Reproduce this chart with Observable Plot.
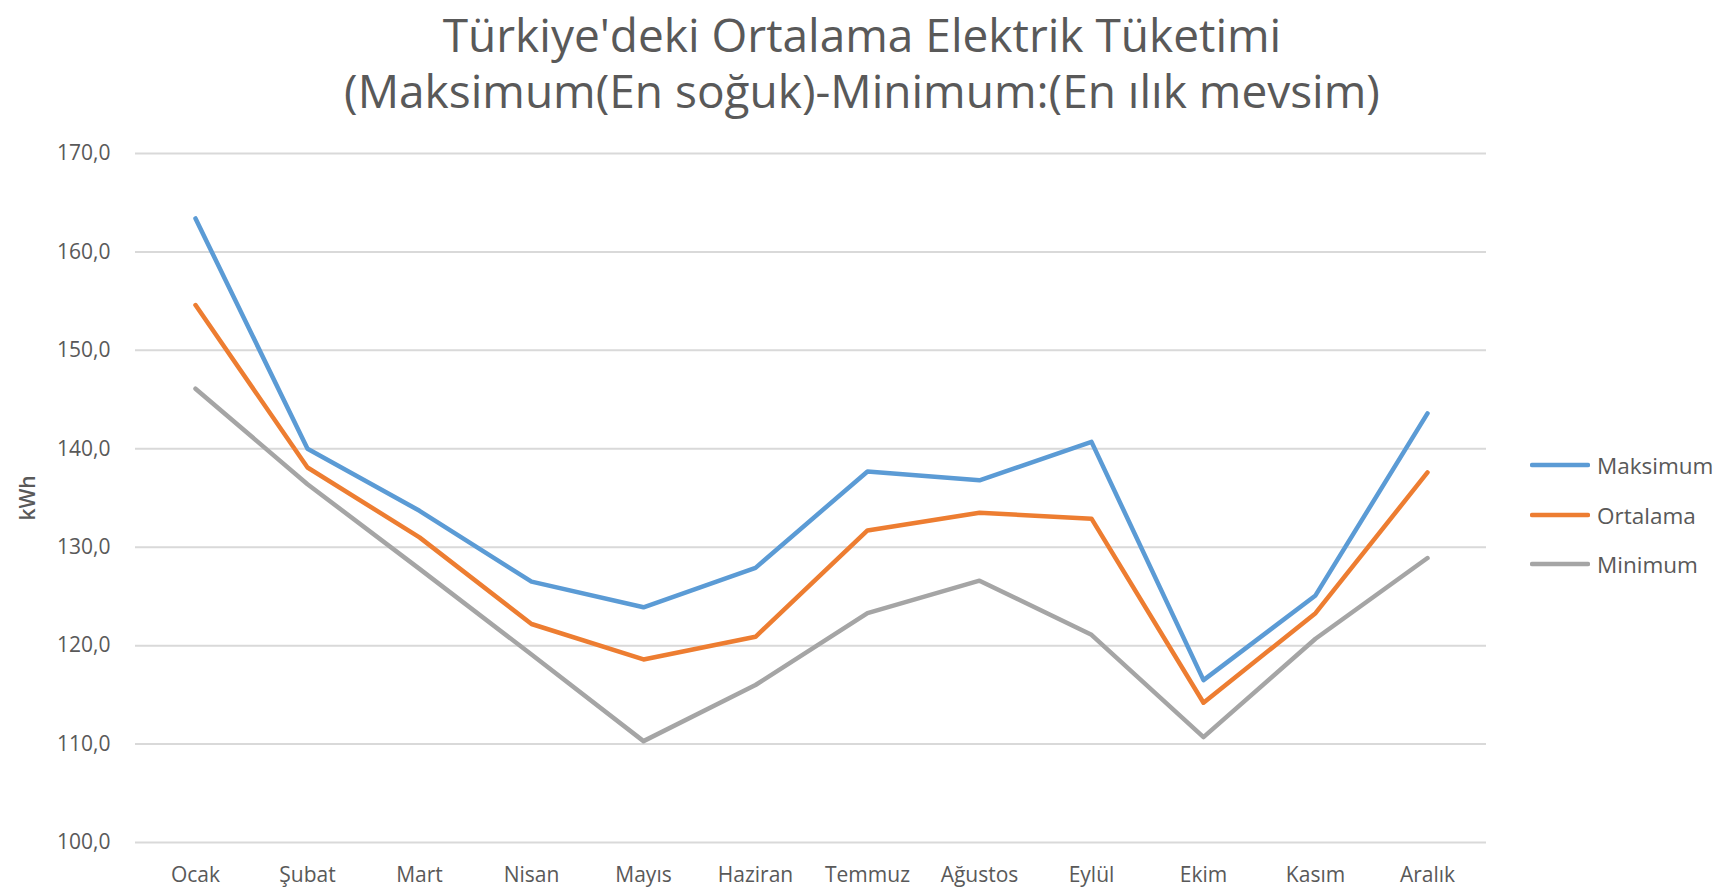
<!DOCTYPE html>
<html>
<head>
<meta charset="utf-8">
<script src="https://cdn.jsdelivr.net/npm/d3@7"></script>
<script src="https://cdn.jsdelivr.net/npm/@observablehq/plot@0.6"></script>
<style>
  html, body { margin: 0; padding: 0; background: #fff; }
  #page { position: relative; width: 1724px; height: 893px; overflow: hidden; font-family: "Open Sans", sans-serif; color: #595959; }
  #title { position: absolute; left: 0; top: 2px; width: 1724px; text-align: center; font-size: 46px; color: #595959; }
  #title div { height: 56px; line-height: 64px; }
  #chart { position: absolute; left: 0; top: 130px; }
  #legend { position: absolute; left: 1530px; top: 0; }
  .item { position: absolute; left: 0; display: flex; align-items: center; height: 30px; white-space: nowrap; font-size: 22.5px; color: #595959; }
  .item svg { display: block; }
  .item span { margin-left: 7px; }
</style>
</head>
<body>
<div id="page">
  <div id="title"></div>
  <div id="chart"></div>
  <div id="legend"></div>
</div>
<script>
const titleLines = ["Türkiye'deki Ortalama Elektrik Tüketimi", "(Maksimum(En soğuk)-Minimum:(En ılık mevsim)"];
const months = ["Ocak","Şubat","Mart","Nisan","Mayıs","Haziran","Temmuz","Ağustos","Eylül","Ekim","Kasım","Aralık"];
const seriesNames = ["Maksimum","Ortalama","Minimum"];
const seriesColors = ["#5B9BD5","#ED7D31","#A5A5A5"];
const maksimum = [163.4, 140.0, 133.7, 126.5, 123.9, 127.9, 137.7, 136.8, 140.7, 116.5, 125.1, 143.6];
const ortalama = [154.6, 138.1, 131.0, 122.2, 118.6, 120.9, 131.7, 133.5, 132.9, 114.2, 123.3, 137.6];
const minimum  = [146.1, 136.4, 127.8, 119.1, 110.3, 116.0, 123.3, 126.6, 121.1, 110.7, 120.7, 128.9];
const yTicks = [100, 110, 120, 130, 140, 150, 160, 170];
const yLabel = "kWh";

const values = [maksimum, ortalama, minimum];
const data = [];
seriesNames.forEach((s, i) => months.forEach((m, j) => data.push({series: s, month: m, value: values[i][j]})));

document.getElementById("title").innerHTML = titleLines.map(t => `<div>${t}</div>`).join("");

const chart = Plot.plot({
  width: 1724,
  height: 763,
  marginTop: 23,
  marginBottom: 51,
  marginLeft: 135,
  marginRight: 238,
  style: { fontFamily: "Open Sans, sans-serif", fontSize: "21px", color: "#595959", background: "white" },
  x: { type: "point", domain: months, padding: 0.5 },
  y: { domain: [100, 170] },
  color: { domain: seriesNames, range: seriesColors },
  marks: [
    Plot.ruleY(yTicks, { stroke: "#D9D9D9", strokeWidth: 2 }),
    Plot.axisY({ ticks: yTicks, tickSize: 0, tickPadding: 25, tickFormat: d => d.toFixed(1).replace(".", ","), label: null, fill: "#595959" }),
    Plot.axisX({ tickSize: 0, tickPadding: 25, label: null, fill: "#595959" }),
    Plot.text([yLabel], { frameAnchor: "left", textAnchor: "middle", dx: -107, rotate: -90, text: d => d, fontSize: 21, fontWeight: 600, fill: "#595959" }),
    Plot.line(data, { x: "month", y: "value", z: "series", stroke: "series", strokeWidth: 4.5, strokeLinejoin: "round", strokeLinecap: "round" })
  ]
});
document.getElementById("chart").appendChild(chart);

const legend = document.getElementById("legend");
const legendY = [465, 515, 564];
seriesNames.forEach((s, i) => {
  const div = document.createElement("div");
  div.className = "item";
  div.style.top = (legendY[i] - 15) + "px";
  div.innerHTML = `<svg width="60" height="8"><line x1="2" y1="4" x2="58" y2="4" stroke="${seriesColors[i]}" stroke-width="4.5" stroke-linecap="round"/></svg><span>${s}</span>`;
  legend.appendChild(div);
});
</script>
</body>
</html>
